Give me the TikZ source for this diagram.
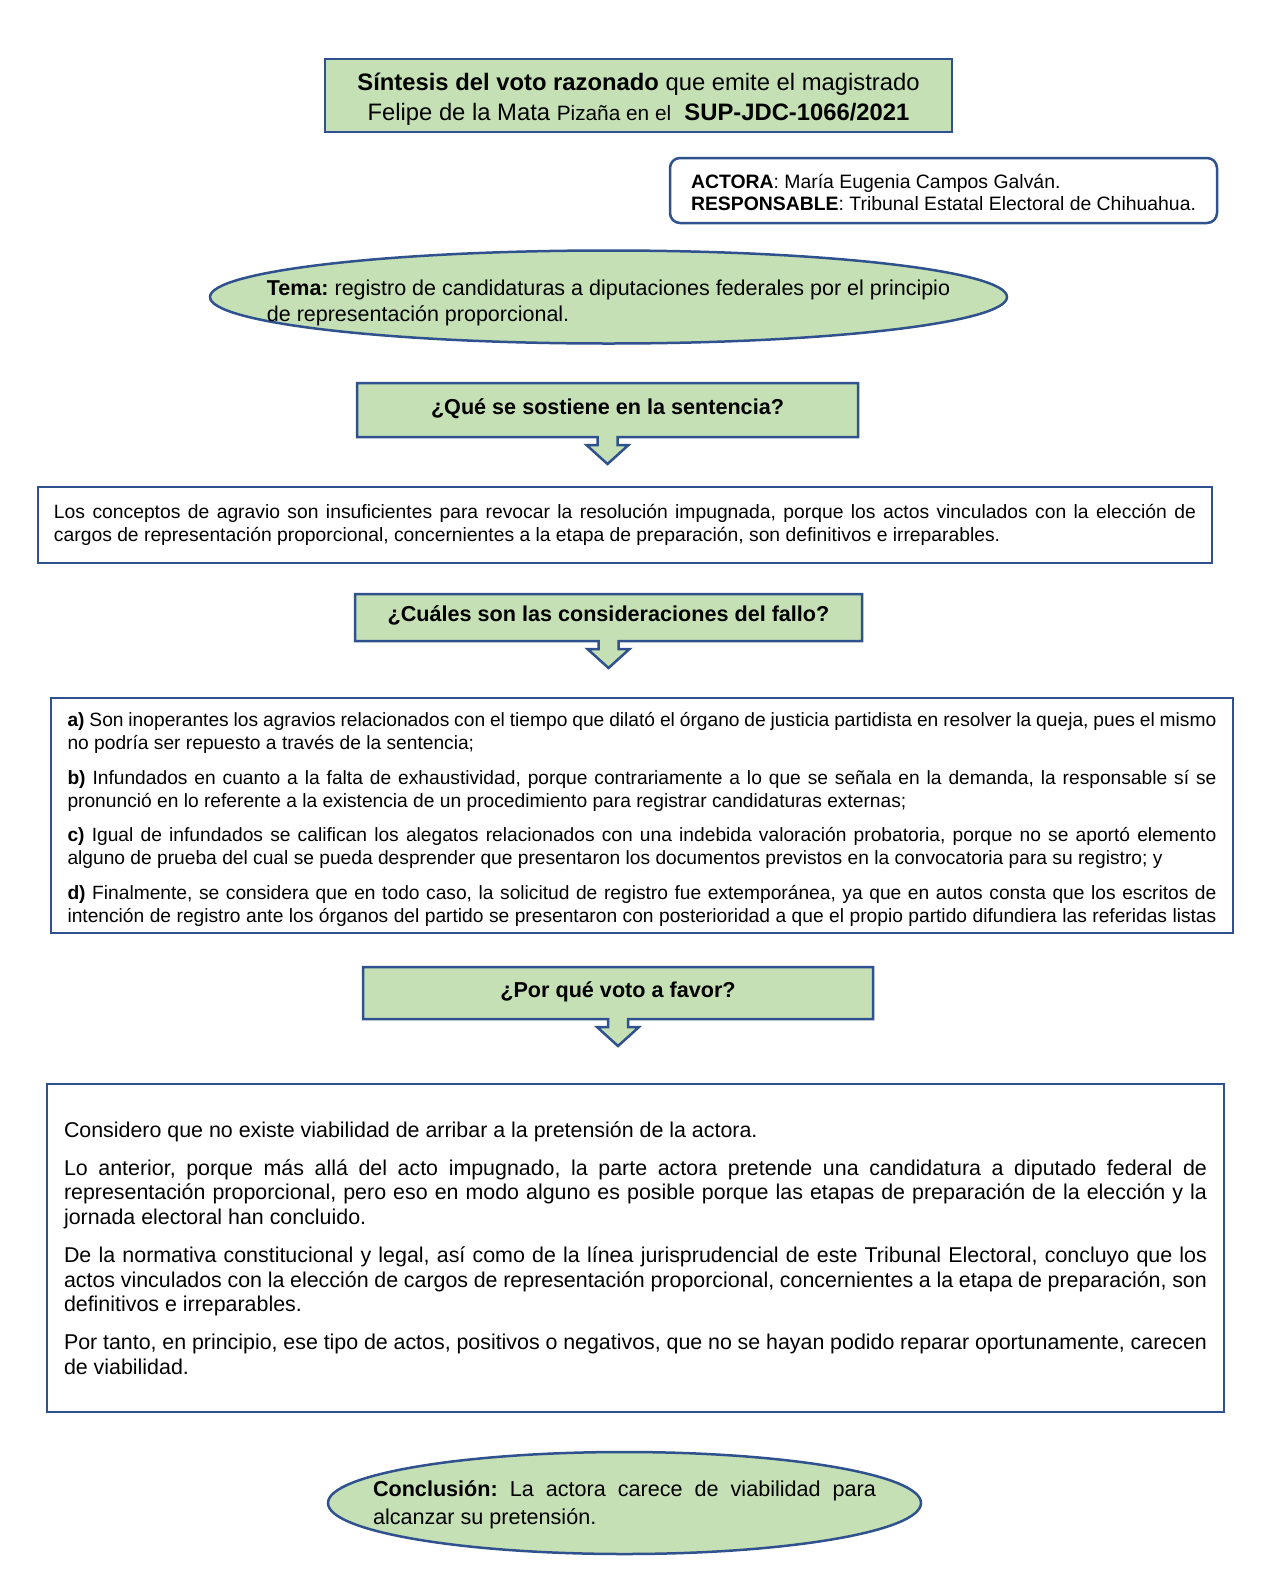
\documentclass[tikz,border=0pt]{standalone}
\usepackage{fontspec}
\setmainfont{Liberation Sans}
\usetikzlibrary{shapes.geometric,backgrounds}
\frenchspacing

\definecolor{boxgreen}{RGB}{197,224,180}
\definecolor{boxblue}{RGB}{47,82,143}

\begin{document}
\begin{tikzpicture}[
  x = 0.5pt, y = -0.5pt,
  greenbox/.style = {draw = boxblue, fill = boxgreen, line width = 1.25pt},
  textbox/.style = {draw = boxblue, fill = white, line width = 1.25pt, align = justify},
  qbox/.style = {outer sep = 0pt, text height = 7pt, text depth = 3pt,
                 font = \fontsize{10.8}{13}\selectfont\bfseries},
  callout/.style = {draw = boxblue, fill = boxgreen, line width = 1.25pt},
  ]
  \useasboundingbox (0,0) rectangle (1278,1596);
  \node[greenbox, minimum width = 313.5pt, minimum height = 36.5pt] (titulo) at (638.5,95.5) {};
  \node[align = center, font = \fontsize{11.9}{15}\selectfont] (titulotxt) at ([yshift = -2pt]titulo.center)
    {\textbf{Síntesis del voto razonado} que emite el magistrado\\
     Felipe de la Mata {\fontsize{10.4}{15}\selectfont Pizaña en el}\ \ \textbf{SUP-JDC-1066/2021}};
  \node[draw = boxblue, line width = 1.25pt, rounded corners = 5pt, minimum width = 273.5pt,
        minimum height = 32.5pt] (partes) at (943.5,190.5) {};
  \node[align = left, font = \fontsize{9.7}{10.7}\selectfont] (partestxt) at ([yshift = -1pt]partes.center)
    {\textbf{ACTORA}: María Eugenia Campos Galván.\\
     \textbf{RESPONSABLE}: Tribunal Estatal Electoral de Chihuahua.};
  \node[greenbox, ellipse, minimum width = 398.5pt, minimum height = 46.5pt] (tema) at (608.5,297) {};
  \node[align = left, font = \fontsize{10.75}{13.25}\selectfont] (tematxt) at ([yshift = -3pt]tema.center)
    {\textbf{Tema:} registro de candidaturas a diputaciones federales por el principio\\
     de representación proporcional.};
  \node[qbox, minimum width = 250.5pt, minimum height = 27pt] (q1) at (607.5,410)
    {¿Qué se sostiene en la sentencia?};
  \node[textbox, text width = 571pt, inner xsep = 8pt, minimum height = 38pt,
        font = \fontsize{9.65}{11.2}\selectfont] (sentencia) at (625,525)
    {\hyphenpenalty=10000 Los conceptos de agravio son insuficientes para revocar la resolución impugnada, porque los actos vinculados con la elección de\linebreak
     cargos de representación proporcional, concernientes a la etapa de preparación, son definitivos e irreparables.};
  \node[qbox, minimum width = 253.5pt, minimum height = 23.5pt] (q2) at (608.5,617.5)
    {¿Cuáles son las consideraciones del fallo?};
  \node[textbox, text width = 574.5pt, inner xsep = 8.25pt, minimum height = 117.5pt,
        font = \fontsize{9.6}{11.5}\selectfont] (fallo) at (642,815.5)
    {\hyphenpenalty=10000 \parindent=0pt \parskip=5.75pt
     \rule{0pt}{11pt}\textbf{a)} Son inoperantes los agravios relacionados con el tiempo que dilató el órgano de justicia partidista en resolver la queja, pues el mismo\linebreak
     no podría ser repuesto a través de la sentencia;\par
     \textbf{b)} Infundados en cuanto a la falta de exhaustividad, porque contrariamente a lo que se señala en la demanda, la responsable sí se\linebreak
     pronunció en lo referente a la existencia de un procedimiento para registrar candidaturas externas;\par
     \textbf{c)} Igual de infundados se califican los alegatos relacionados con una indebida valoración probatoria, porque no se aportó elemento\linebreak
     alguno de prueba del cual se pueda desprender que presentaron los documentos previstos en la convocatoria para su registro; y\par
     {\parfillskip=0pt \textbf{d)} Finalmente, se considera que en todo caso, la solicitud de registro fue extemporánea, ya que en autos consta que los escritos de\linebreak
     intención de registro ante los órganos del partido se presentaron con posterioridad a que el propio partido difundiera las referidas listas\par}};
  \node[qbox, minimum width = 255pt, minimum height = 26pt] (q3) at (618,993)
    {¿Por qué voto a favor?};
  \node[textbox, text width = 571.5pt, inner xsep = 8.5pt, minimum height = 164pt,
        font = \fontsize{10.7}{12.35}\selectfont] (voto) at (635.5,1248)
    {\hyphenpenalty=10000 \parindent=0pt \parskip=6.6pt
     Considero que no existe viabilidad de arribar a la pretensión de la actora.\par
     Lo anterior, porque más allá del acto impugnado, la parte actora pretende una candidatura a diputado federal de\linebreak
     representación proporcional, pero eso en modo alguno es posible porque las etapas de preparación de la elección y la\linebreak
     jornada electoral han concluido.\par
     De la normativa constitucional y legal, así como de la línea jurisprudencial de este Tribunal Electoral, concluyo que los\linebreak
     actos vinculados con la elección de cargos de representación proporcional, concernientes a la etapa de preparación, son\linebreak
     definitivos e irreparables.\par
     Por tanto, en principio, ese tipo de actos, positivos o negativos, que no se hayan podido reparar oportunamente, carecen\linebreak
     de viabilidad.};
  \node[greenbox, ellipse, minimum width = 296.5pt, minimum height = 51pt] (conclusion) at (624.5,1503) {};
  \node[text width = 251.5pt, align = justify, font = \fontsize{10.8}{13.75}\selectfont] (conclusiontxt)
    at ([yshift = -1pt]conclusion.center)
    {\textbf{Conclusión:} La actora carece de viabilidad para\linebreak alcanzar su pretensión.};
  \begin{scope}[on background layer]
    \foreach \q in {q1,q2,q3}
      \draw[callout] (\q.north west) -- (\q.north east) -- (\q.south east)
        -- ([xshift = 5pt]\q.south) -- ++(0,8) -- ++(11,0) -- ++(-21,19)
        -- ++(-21,-19) -- ++(11,0) -- ([xshift = -5pt]\q.south) -- (\q.south west) -- cycle;
  \end{scope}
\end{tikzpicture}
\end{document}
